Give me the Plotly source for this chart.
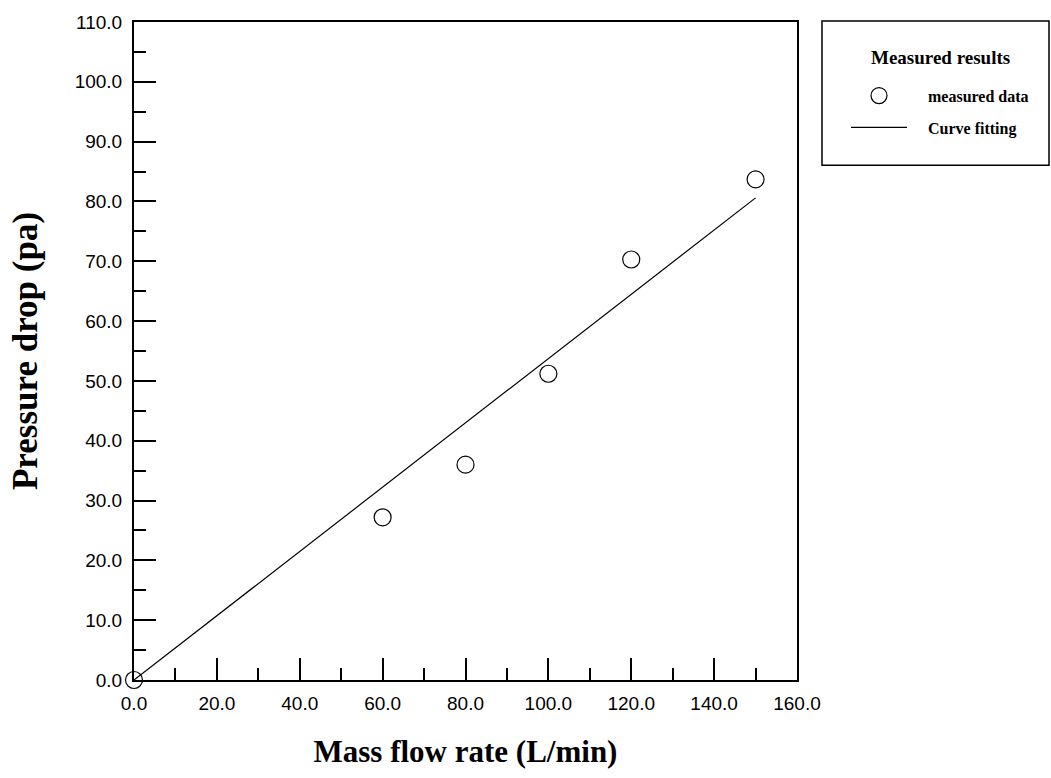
import plotly.graph_objects as go

flow_measured = [0, 60, 80, 100, 120, 150]
dp_measured = [0.0, 27.2, 36.0, 51.2, 70.3, 83.7]
flow_fit = [0, 150]
dp_fit = [0.0, 80.6]

NB = "\u00a0" * 4
fig = go.Figure()
fig.add_trace(go.Scatter(
    x=flow_measured, y=dp_measured, mode="markers", name=NB + "<b>measured data</b>",
    legendgroup="a",
    marker=dict(symbol="circle-open", size=17, color="black", line=dict(width=1.2)),
    cliponaxis=False,
))
fig.add_trace(go.Scatter(
    x=flow_fit, y=dp_fit, mode="lines", name=NB + "<b>Curve fitting</b>",
    legendgroup="b",
    line=dict(color="black", width=1.2),
))

axis_common = dict(
    showgrid=False, zeroline=False, showline=True, linecolor="black", linewidth=2,
    mirror=True, ticks="inside", ticklen=22, tickwidth=2, tickcolor="black",
    tickformat=".1f", tickfont=dict(family="Arial, Liberation Sans", size=19, color="black"),
)
fig.update_xaxes(range=[0, 160], dtick=20, tick0=0, ticklabelstandoff=5,
                 minor=dict(dtick=10, ticks="inside", ticklen=12, tickwidth=2, tickcolor="black"),
                 title=dict(text="<b>Mass flow rate (L/min)</b>",
                            font=dict(family="Times New Roman, Liberation Serif", size=31, color="black"),
                            standoff=28),
                 **axis_common)
fig.update_yaxes(range=[0, 110], dtick=10, tick0=0, ticklabelstandoff=6,
                 minor=dict(dtick=5, ticks="inside", ticklen=12, tickwidth=2, tickcolor="black"),
                 title=dict(text="<b>Pressure drop (pa)</b>",
                            font=dict(family="Times New Roman, Liberation Serif", size=35, color="black"),
                            standoff=26),
                 **axis_common)

PW = 797 - 134
PH = 680 - 18
fig.add_shape(type="rect", xref="paper", yref="paper",
              x0=(822 - 134) / PW, x1=(1049 - 134) / PW,
              y0=(680 - 162) / PH, y1=(680 - 17) / PH,
              line=dict(color="black", width=1.5), fillcolor="rgba(0,0,0,0)")
fig.add_annotation(xref="paper", yref="paper", x=(941 - 134) / PW, y=(680 - 54) / PH,
                   text="<b>Measured results</b>", showarrow=False,
                   xanchor="center", yanchor="middle",
                   font=dict(family="Times New Roman, Liberation Serif", size=19, color="black"))

fig.update_layout(
    width=1051, height=778,
    margin=dict(l=134, r=254, t=18, b=98),
    plot_bgcolor="white", paper_bgcolor="white",
    showlegend=True,
    legend=dict(
        x=(846 - 134) / PW, y=(680 - 75) / PH, xanchor="left", yanchor="top",
        bgcolor="rgba(0,0,0,0)", borderwidth=0,
        font=dict(family="Times New Roman, Liberation Serif", size=16, color="black"),
        itemwidth=56, tracegroupgap=8,
    ),
)

fig.write_html("out.html")
